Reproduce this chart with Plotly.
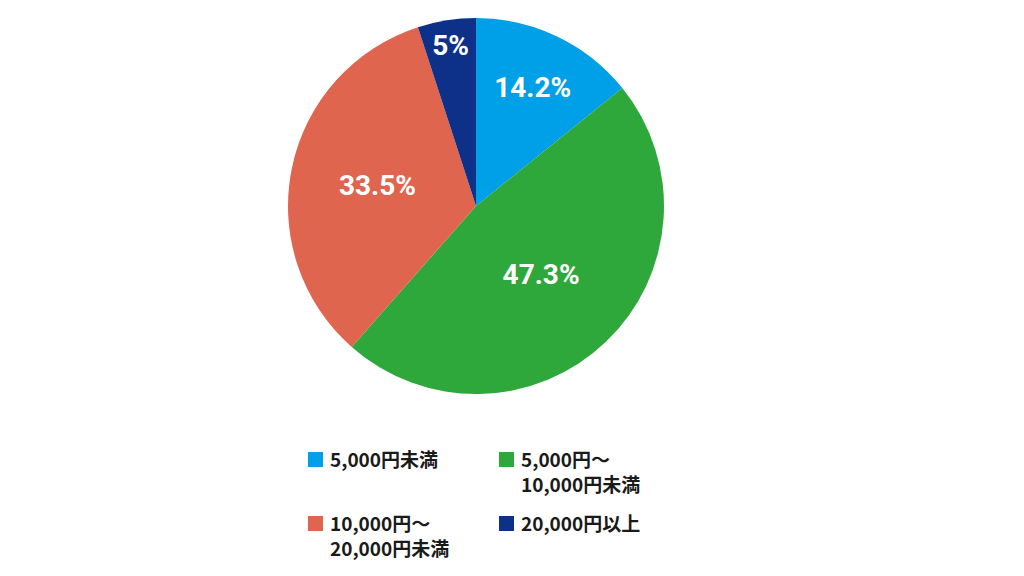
import plotly.graph_objects as go

labels = ["5,000円未満", "5,000円～<br>10,000円未満", "10,000円～<br>20,000円未満", "20,000円以上"]
values = [14.2, 47.3, 33.5, 5]
colors = ["#00A0E9", "#2EA83A", "#E0654F", "#0D3189"]

W, H = 1024, 576

fig = go.Figure(go.Pie(
    labels=labels,
    values=values,
    sort=False,
    direction="clockwise",
    rotation=0,
    marker=dict(colors=colors, line=dict(width=0)),
    texttemplate="%{value}%",
    textposition="inside",
    insidetextorientation="horizontal",
    textfont=dict(family="Roboto", size=28, color="white", weight="bold"),
    domain=dict(x=[280 / W, 656 / W], y=[1 - 387 / H, 1 - 9 / H]),
    hoverinfo="skip",
    showlegend=False,
))

# legend laid out as a 2x2 grid below the pie
col_x = [300, 491]
row_y = [444, 508]
sq = 15
shapes = []
annotations = []
for i, (lab, col) in enumerate(zip(labels, colors)):
    cx = col_x[i % 2]
    ry = row_y[i // 2]
    shapes.append(dict(
        type="rect", xref="paper", yref="paper",
        x0=cx / W, x1=(cx + sq) / W,
        y0=1 - ry / H, y1=1 - (ry + sq) / H,
        fillcolor=col, line=dict(width=0),
    ))
    annotations.append(dict(
        text=lab, xref="paper", yref="paper",
        x=(cx + sq + 5) / W, y=1 - (ry - 9) / H,
        xanchor="left", yanchor="top", align="left",
        showarrow=False,
        font=dict(family="Noto Sans CJK JP", size=19, color="#1a1a1a", weight="bold"),
    ))

fig.update_layout(
    width=W, height=H,
    margin=dict(l=0, r=0, t=0, b=0),
    paper_bgcolor="white",
    plot_bgcolor="white",
    shapes=shapes,
    annotations=annotations,
)

fig.write_html("out.html")
